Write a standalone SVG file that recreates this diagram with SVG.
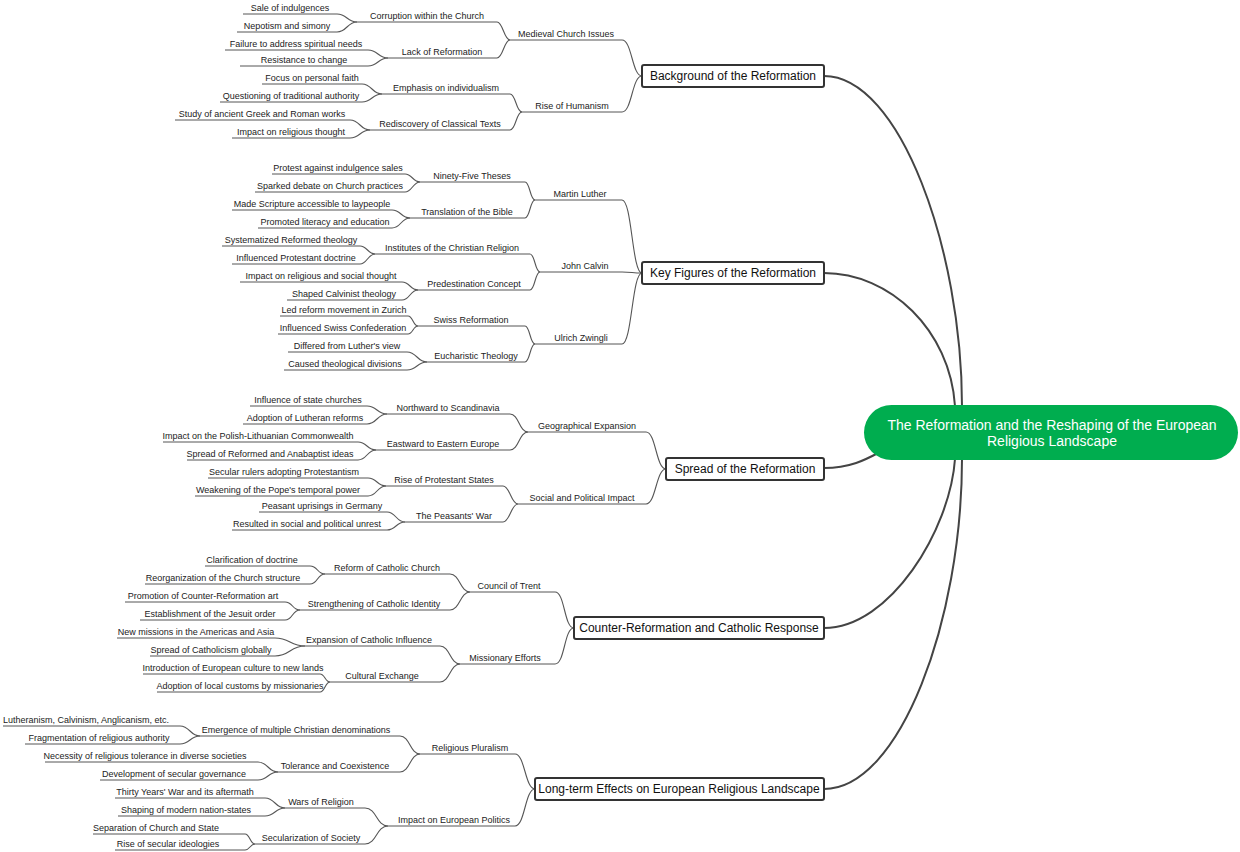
<svg xmlns="http://www.w3.org/2000/svg" width="1240" height="852" viewBox="0 0 1240 852">
<style>
text{font-family:"Liberation Sans",Arial,sans-serif;font-size:9px;fill:#222;text-anchor:middle}
.u{stroke:#555;stroke-width:1;fill:none}
#conn path{stroke:#555;stroke-width:1.1;fill:none}
#rootconn path{stroke:#444;stroke-width:2;fill:none}
.m rect{fill:#fff;stroke:#333;stroke-width:2}
.m text{font-size:12px;fill:#111}
</style>
<rect width="1240" height="852" fill="#fff"/>
<g id="rootconn">
<path d="M824,76 C900,76 962,250 962,406"/>
<path d="M824,273 C890,273 950,330 955,406"/>
<path d="M824,468 C850,468 865,460 880,452"/>
<path d="M824,628 C890,628 950,530 955,459"/>
<path d="M824,789 C900,789 962,620 962,459"/>
</g>
<g id="conn">
<path d="M622,40 C632,40 632,76 642,76"/><path d="M622,112 C632,112 632,76 642,76"/>
<path d="M497,22 C503,22 504,40 510,40"/><path d="M497,58 C503,58 504,40 510,40"/>
<path d="M510,94 C516,94 516,112 522,112"/><path d="M510,130 C516,130 516,112 522,112"/>
<path d="M337,14 C347,14 347,22 357,22"/><path d="M337,32 C347,32 347,22 357,22"/>
<path d="M368,50 C378,50 378,58 388,58"/><path d="M368,66 C378,66 378,58 388,58"/>
<path d="M362,84 C372,84 372,94 382,94"/><path d="M362,102 C372,102 372,94 382,94"/>
<path d="M350,120 C360,120 360,130 370,130"/><path d="M350,138 C360,138 360,130 370,130"/>
<path d="M622,200 C632,200 632,273 642,273"/><path d="M622,272 C632,272 632,273 642,273"/><path d="M622,344 C632,344 632,273 642,273"/>
<path d="M525,182 C530,182 530,200 535,200"/><path d="M525,218 C530,218 530,200 535,200"/>
<path d="M530,254 C535,254 535,272 540,272"/><path d="M530,290 C535,290 535,272 540,272"/>
<path d="M525,326 C530,326 530,344 535,344"/><path d="M525,362 C530,362 530,344 535,344"/>
<path d="M405,174 C412,174 413,182 420,182"/><path d="M405,192 C412,192 413,182 420,182"/>
<path d="M392,210 C401,210 401,218 410,218"/><path d="M392,228 C401,228 401,218 410,218"/>
<path d="M360,246 C367,246 368,254 375,254"/><path d="M360,264 C367,264 368,254 375,254"/>
<path d="M402,282 C410,282 410,290 418,290"/><path d="M402,300 C410,300 410,290 418,290"/>
<path d="M408,316 C413,316 413,326 418,326"/><path d="M408,334 C413,334 413,326 418,326"/>
<path d="M407,352 C417,352 417,362 427,362"/><path d="M407,370 C417,370 417,362 427,362"/>
<path d="M646,432 C656,432 656,469 666,469"/><path d="M646,504 C656,504 656,469 666,469"/>
<path d="M510,414 C519,414 519,432 528,432"/><path d="M510,450 C519,450 519,432 528,432"/>
<path d="M503,486 C510,486 511,504 518,504"/><path d="M503,522 C510,522 511,504 518,504"/>
<path d="M367,406 C377,406 377,414 387,414"/><path d="M367,424 C377,424 377,414 387,414"/>
<path d="M358,442 C367,442 367,450 376,450"/><path d="M358,460 C367,460 367,450 376,450"/>
<path d="M368,478 C377,478 377,486 386,486"/><path d="M368,496 C377,496 377,486 386,486"/>
<path d="M387,512 C396,512 396,522 405,522"/><path d="M387,530 C396,530 396,522 405,522"/>
<path d="M555,592 C565,592 564,628 574,628"/><path d="M555,664 C565,664 564,628 574,628"/>
<path d="M450,574 C460,574 460,592 470,592"/><path d="M450,610 C460,610 460,592 470,592"/>
<path d="M440,646 C450,646 450,664 460,664"/><path d="M440,682 C450,682 450,664 460,664"/>
<path d="M310,566 C318,566 317,574 325,574"/><path d="M310,584 C318,584 317,574 325,574"/>
<path d="M285,602 C293,602 292,610 300,610"/><path d="M285,620 C293,620 292,610 300,610"/>
<path d="M275,638 C290,638 290,646 305,646"/><path d="M275,656 C290,656 290,646 305,646"/>
<path d="M320,674 C325,674 325,682 330,682"/><path d="M320,692 C325,692 325,682 330,682"/>
<path d="M515,754 C525,754 525,789 535,789"/><path d="M515,826 C525,826 525,789 535,789"/>
<path d="M400,736 C410,736 410,754 420,754"/><path d="M400,772 C410,772 410,754 420,754"/>
<path d="M365,808 C377,808 376,826 388,826"/><path d="M365,844 C377,844 376,826 388,826"/>
<path d="M180,726 C190,726 190,736 200,736"/><path d="M180,744 C190,744 190,736 200,736"/>
<path d="M258,762 C268,762 268,772 278,772"/><path d="M258,780 C268,780 268,772 278,772"/>
<path d="M265,798 C275,798 275,808 285,808"/><path d="M265,816 C275,816 275,808 285,808"/>
<path d="M245,834 C250,834 250,844 255,844"/><path d="M245,850 C250,850 250,844 255,844"/>
</g>
<g id="root"><rect x="864" y="405" width="374" height="55" rx="27.5" fill="#00AD4F"/>
<text x="1052" y="430" style="font-size:14px;fill:#fff">The Reformation and the Reshaping of the European</text>
<text x="1052" y="446" style="font-size:14px;fill:#fff">Religious Landscape</text></g>
<g id="m1" class="m"><rect x="642" y="65" width="182" height="22" rx="2"/><text x="733" y="80">Background of the Reformation</text></g>
<g id="m2" class="m"><rect x="642" y="262" width="182" height="22" rx="2"/><text x="733" y="277">Key Figures of the Reformation</text></g>
<g id="m3" class="m"><rect x="666" y="458" width="158" height="22" rx="2"/><text x="745" y="473">Spread of the Reformation</text></g>
<g id="m4" class="m"><rect x="574" y="617" width="250" height="22" rx="2"/><text x="699" y="632">Counter-Reformation and Catholic Response</text></g>
<g id="m5" class="m"><rect x="535" y="778" width="289" height="22" rx="2"/><text x="679" y="793">Long-term Effects on European Religious Landscape</text></g>
<g id="n1"><path class="u" d="M510,40H622"/><text x="566" y="37">Medieval Church Issues</text></g>
<g id="n2"><path class="u" d="M522,112H622"/><text x="572" y="109">Rise of Humanism</text></g>
<g id="n3"><path class="u" d="M357,22H497"/><text x="427" y="19">Corruption within the Church</text></g>
<g id="n4"><path class="u" d="M388,58H497"/><text x="442" y="55">Lack of Reformation</text></g>
<g id="n5"><path class="u" d="M382,94H510"/><text x="446" y="91">Emphasis on individualism</text></g>
<g id="n6"><path class="u" d="M370,130H510"/><text x="440" y="127">Rediscovery of Classical Texts</text></g>
<g id="n7"><path class="u" d="M243,14H337"/><text x="290" y="11">Sale of indulgences</text></g>
<g id="n8"><path class="u" d="M237,32H337"/><text x="287" y="29">Nepotism and simony</text></g>
<g id="n9"><path class="u" d="M225,50H368"/><text x="296" y="47">Failure to address spiritual needs</text></g>
<g id="n10"><path class="u" d="M240,66H368"/><text x="304" y="63">Resistance to change</text></g>
<g id="n11"><path class="u" d="M262,84H362"/><text x="312" y="81">Focus on personal faith</text></g>
<g id="n12"><path class="u" d="M220,102H362"/><text x="291" y="99">Questioning of traditional authority</text></g>
<g id="n13"><path class="u" d="M175,120H350"/><text x="262" y="117">Study of ancient Greek and Roman works</text></g>
<g id="n14"><path class="u" d="M232,138H350"/><text x="291" y="135">Impact on religious thought</text></g>
<g id="n15"><path class="u" d="M535,200H622"/><text x="580" y="197">Martin Luther</text></g>
<g id="n16"><path class="u" d="M540,272H622"/><text x="585" y="269">John Calvin</text></g>
<g id="n17"><path class="u" d="M535,344H622"/><text x="581" y="341">Ulrich Zwingli</text></g>
<g id="n18"><path class="u" d="M420,182H525"/><text x="472" y="179">Ninety-Five Theses</text></g>
<g id="n19"><path class="u" d="M410,218H525"/><text x="467" y="215">Translation of the Bible</text></g>
<g id="n20"><path class="u" d="M375,254H530"/><text x="452" y="251">Institutes of the Christian Religion</text></g>
<g id="n21"><path class="u" d="M418,290H530"/><text x="474" y="287">Predestination Concept</text></g>
<g id="n22"><path class="u" d="M418,326H525"/><text x="471" y="323">Swiss Reformation</text></g>
<g id="n23"><path class="u" d="M427,362H525"/><text x="476" y="359">Eucharistic Theology</text></g>
<g id="n24"><path class="u" d="M272,174H405"/><text x="338" y="171">Protest against indulgence sales</text></g>
<g id="n25"><path class="u" d="M255,192H405"/><text x="330" y="189">Sparked debate on Church practices</text></g>
<g id="n26"><path class="u" d="M232,210H392"/><text x="312" y="207">Made Scripture accessible to laypeople</text></g>
<g id="n27"><path class="u" d="M258,228H392"/><text x="325" y="225">Promoted literacy and education</text></g>
<g id="n28"><path class="u" d="M222,246H360"/><text x="291" y="243">Systematized Reformed theology</text></g>
<g id="n29"><path class="u" d="M232,264H360"/><text x="296" y="261">Influenced Protestant doctrine</text></g>
<g id="n30"><path class="u" d="M240,282H402"/><text x="321" y="279">Impact on religious and social thought</text></g>
<g id="n31"><path class="u" d="M287,300H402"/><text x="344" y="297">Shaped Calvinist theology</text></g>
<g id="n32"><path class="u" d="M280,316H408"/><text x="344" y="313">Led reform movement in Zurich</text></g>
<g id="n33"><path class="u" d="M278,334H408"/><text x="343" y="331">Influenced Swiss Confederation</text></g>
<g id="n34"><path class="u" d="M288,352H407"/><text x="347" y="349">Differed from Luther's view</text></g>
<g id="n35"><path class="u" d="M284,370H407"/><text x="345" y="367">Caused theological divisions</text></g>
<g id="n36"><path class="u" d="M528,432H646"/><text x="587" y="429">Geographical Expansion</text></g>
<g id="n37"><path class="u" d="M518,504H646"/><text x="582" y="501">Social and Political Impact</text></g>
<g id="n38"><path class="u" d="M387,414H510"/><text x="448" y="411">Northward to Scandinavia</text></g>
<g id="n39"><path class="u" d="M376,450H510"/><text x="443" y="447">Eastward to Eastern Europe</text></g>
<g id="n40"><path class="u" d="M386,486H503"/><text x="444" y="483">Rise of Protestant States</text></g>
<g id="n41"><path class="u" d="M405,522H503"/><text x="454" y="519">The Peasants' War</text></g>
<g id="n42"><path class="u" d="M250,406H367"/><text x="308" y="403">Influence of state churches</text></g>
<g id="n43"><path class="u" d="M243,424H367"/><text x="305" y="421">Adoption of Lutheran reforms</text></g>
<g id="n44"><path class="u" d="M163,442H358"/><text x="258" y="439">Impact on the Polish-Lithuanian Commonwealth</text></g>
<g id="n45"><path class="u" d="M187,460H358"/><text x="270" y="457">Spread of Reformed and Anabaptist ideas</text></g>
<g id="n46"><path class="u" d="M208,478H368"/><text x="284" y="475">Secular rulers adopting Protestantism</text></g>
<g id="n47"><path class="u" d="M195,496H368"/><text x="278" y="493">Weakening of the Pope's temporal power</text></g>
<g id="n48"><path class="u" d="M259,512H387"/><text x="322" y="509">Peasant uprisings in Germany</text></g>
<g id="n49"><path class="u" d="M232,530H387"/><text x="307" y="527">Resulted in social and political unrest</text></g>
<g id="n50"><path class="u" d="M470,592H555"/><text x="509" y="589">Council of Trent</text></g>
<g id="n51"><path class="u" d="M460,664H555"/><text x="505" y="661">Missionary Efforts</text></g>
<g id="n52"><path class="u" d="M325,574H450"/><text x="387" y="571">Reform of Catholic Church</text></g>
<g id="n53"><path class="u" d="M300,610H450"/><text x="374" y="607">Strengthening of Catholic Identity</text></g>
<g id="n54"><path class="u" d="M305,646H440"/><text x="369" y="643">Expansion of Catholic Influence</text></g>
<g id="n55"><path class="u" d="M330,682H440"/><text x="382" y="679">Cultural Exchange</text></g>
<g id="n56"><path class="u" d="M205,566H310"/><text x="252" y="563">Clarification of doctrine</text></g>
<g id="n57"><path class="u" d="M145,584H310"/><text x="223" y="581">Reorganization of the Church structure</text></g>
<g id="n58"><path class="u" d="M125,602H285"/><text x="203" y="599">Promotion of Counter-Reformation art</text></g>
<g id="n59"><path class="u" d="M140,620H285"/><text x="210" y="617">Establishment of the Jesuit order</text></g>
<g id="n60"><path class="u" d="M117,638H275"/><text x="196" y="635">New missions in the Americas and Asia</text></g>
<g id="n61"><path class="u" d="M150,656H275"/><text x="211" y="653">Spread of Catholicism globally</text></g>
<g id="n62"><path class="u" d="M143,674H320"/><text x="233" y="671">Introduction of European culture to new lands</text></g>
<g id="n63"><path class="u" d="M157,692H320"/><text x="240" y="689">Adoption of local customs by missionaries</text></g>
<g id="n64"><path class="u" d="M420,754H515"/><text x="470" y="751">Religious Pluralism</text></g>
<g id="n65"><path class="u" d="M388,826H515"/><text x="454" y="823">Impact on European Politics</text></g>
<g id="n66"><path class="u" d="M200,736H400"/><text x="296" y="733">Emergence of multiple Christian denominations</text></g>
<g id="n67"><path class="u" d="M278,772H400"/><text x="335" y="769">Tolerance and Coexistence</text></g>
<g id="n68"><path class="u" d="M285,808H365"/><text x="321" y="805">Wars of Religion</text></g>
<g id="n69"><path class="u" d="M255,844H365"/><text x="311" y="841">Secularization of Society</text></g>
<g id="n70"><path class="u" d="M3,726H180"/><text x="86" y="723">Lutheranism, Calvinism, Anglicanism, etc.</text></g>
<g id="n71"><path class="u" d="M25,744H180"/><text x="99" y="741">Fragmentation of religious authority</text></g>
<g id="n72"><path class="u" d="M45,762H258"/><text x="145" y="759">Necessity of religious tolerance in diverse societies</text></g>
<g id="n73"><path class="u" d="M100,780H258"/><text x="174" y="777">Development of secular governance</text></g>
<g id="n74"><path class="u" d="M115,798H265"/><text x="185" y="795">Thirty Years' War and its aftermath</text></g>
<g id="n75"><path class="u" d="M118,816H265"/><text x="186" y="813">Shaping of modern nation-states</text></g>
<g id="n76"><path class="u" d="M93,834H245"/><text x="156" y="831">Separation of Church and State</text></g>
<g id="n77"><path class="u" d="M115,850H245"/><text x="168" y="847">Rise of secular ideologies</text></g>
</svg>
